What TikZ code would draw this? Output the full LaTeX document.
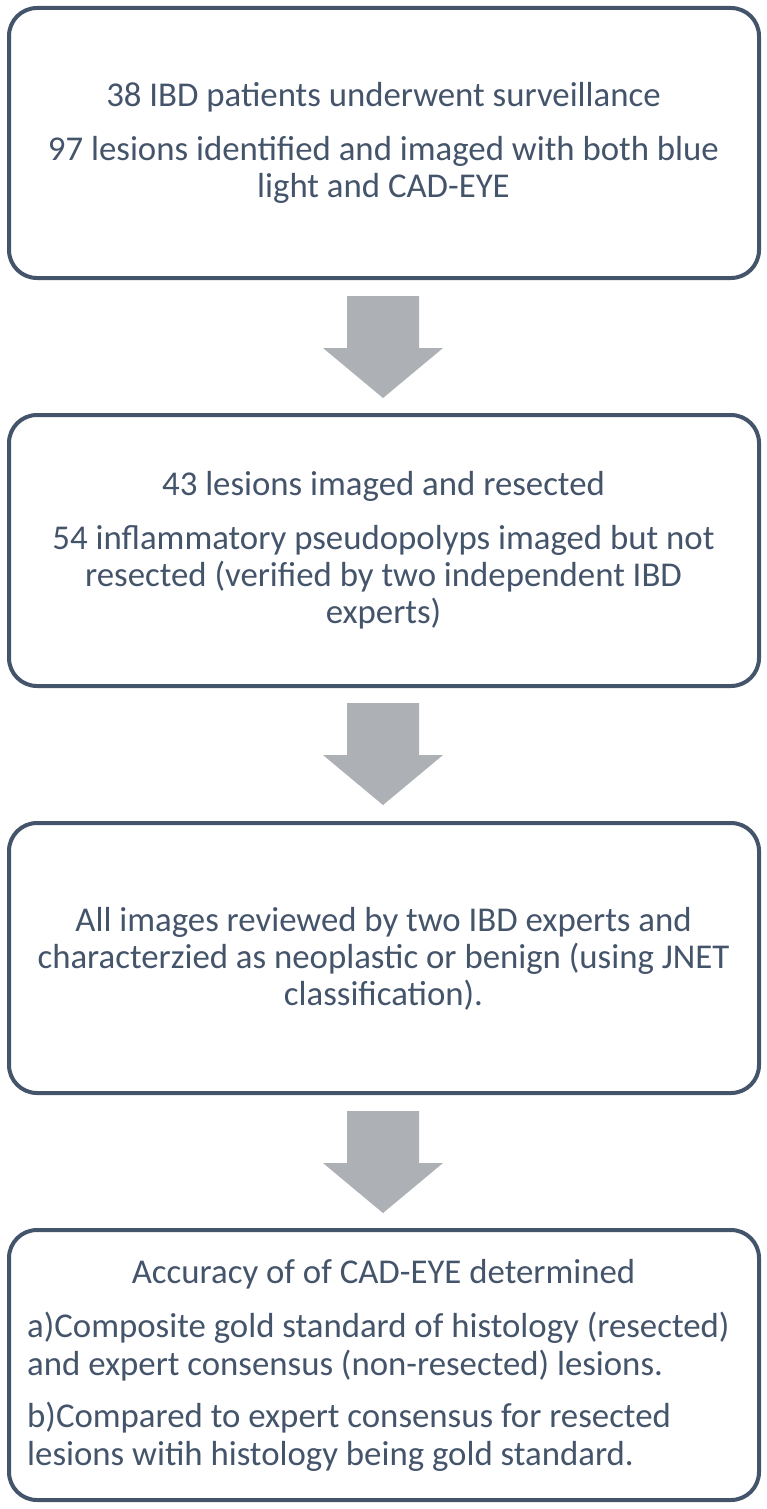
\documentclass[tikz,border=0pt]{standalone}
\usepackage{fontspec}
\setmainfont{Carlito}
\definecolor{bordc}{HTML}{44546A}
\definecolor{arrc}{HTML}{ADB0B5}
\begin{document}
\begin{tikzpicture}[x=1pt,y=-1pt,
  boxst/.style={draw=bordc,line width=4pt,rounded corners=28pt,fill=white},
  txt/.style={text=bordc,font=\fontsize{34.8}{37}\selectfont,align=center,inner sep=0pt,anchor=base},
  ltxt/.style={text=bordc,font=\fontsize{34.8}{38}\selectfont,align=left,inner sep=0pt,anchor=base west},
  arrst/.style={fill=arrc,draw=none}]
\useasboundingbox (0,0) rectangle (767,1509);
\fill[white] (0,0) rectangle (767,1509);
% boxes
\path[boxst] (9,8) rectangle (759,278) coordinate (b1);
\path[boxst] (9,415) rectangle (759,686) coordinate (b2);
\path[boxst] (9,823) rectangle (759,1093) coordinate (b3);
\path[boxst] (9,1230) rectangle (759,1500) coordinate (b4);
% arrows
\foreach \t/\n in {296/a1,703/a2,1111/a3}{
  \fill[arrst] (347,\t) -- (419,\t) -- (419,\t+52) -- (443,\t+52) -- (383,\t+102) -- (323,\t+52) -- (347,\t+52) -- cycle;
}
% box 1 text (base anchor = last line baseline)
\node[txt] (t1a) at (383.5,107) {38 IBD patients underwent surveillance};
\node[txt] (t1b) at (383.5,197) {97 lesions identified and imaged with both blue\\light and CAD-EYE};
% box 2 text
\node[txt] (t2a) at (383.5,495) {43 lesions imaged and resected};
\node[txt] (t2b) at (383.5,623) {54 inflammatory pseudopolyps imaged but not\\resected (verified by two independent IBD\\experts)};
% box 3 text
\node[txt] (t3a) at (383.5,1005) {All images reviewed by two IBD experts and\\characterzied as neoplastic or benign (using JNET\\classification).};
% box 4 text
\node[txt] (t4a) at (383.5,1283) {Accuracy of of CAD-EYE determined};
\node[ltxt] (t4b) at (27,1375) {a)Composite gold standard of histology (resected)\\and expert consensus (non-resected) lesions.};
\node[ltxt] (t4c) at (27,1465) {b)Compared to expert consensus for resected\\lesions witih histology being gold standard.};
\end{tikzpicture}
\end{document}
